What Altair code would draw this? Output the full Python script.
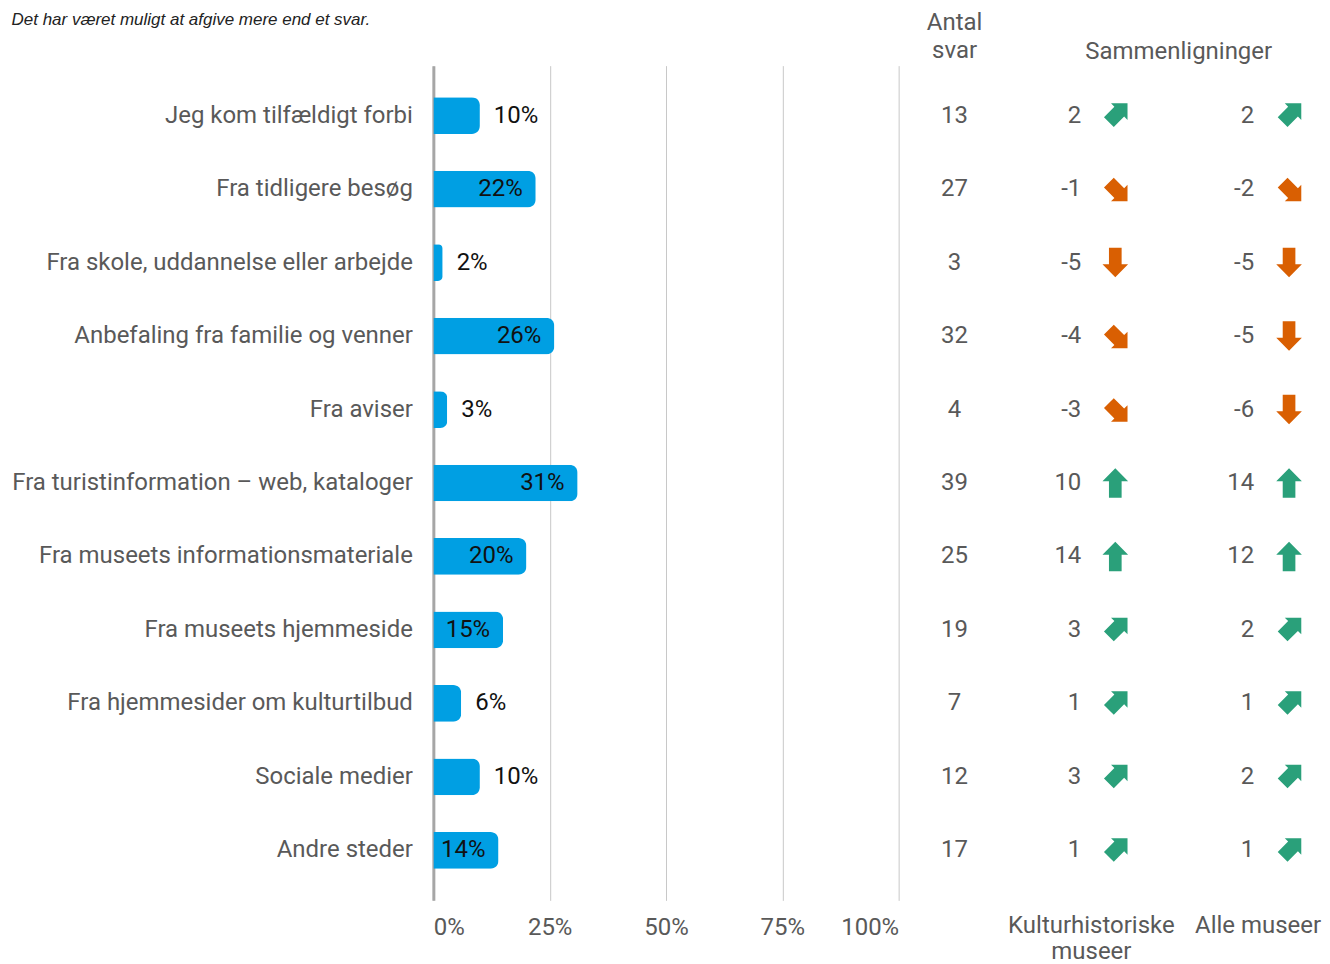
import altair as alt
import pandas as pd

# ---------------- data ----------------
categories = [
    "Jeg kom tilfældigt forbi",
    "Fra tidligere besøg",
    "Fra skole, uddannelse eller arbejde",
    "Anbefaling fra familie og venner",
    "Fra aviser",
    "Fra turistinformation – web, kataloger",
    "Fra museets informationsmateriale",
    "Fra museets hjemmeside",
    "Fra hjemmesider om kulturtilbud",
    "Sociale medier",
    "Andre steder",
]
shares = [0.10, 0.22, 0.02, 0.26, 0.03, 0.31, 0.20, 0.15, 0.06, 0.10, 0.14]
counts = [13, 27, 3, 32, 4, 39, 25, 19, 7, 12, 17]
diff_kultur = [2, -1, -5, -4, -3, 10, 14, 3, 1, 3, 1]
diff_alle = [2, -2, -5, -5, -6, 14, 12, 2, 1, 2, 1]
pct_ticks = [0, 0.25, 0.5, 0.75, 1.0]

subtitle = "Det har været muligt at afgive mere end et svar."
hdr_count = "Antal svar"
hdr_compare = "Sammenligninger"
grp_kultur = "Kulturhistoriske museer"
grp_alle = "Alle museer"

# ---------------- styles ----------------
FONT = "Roboto"
GREY = "#595959"
BAR = "#009FE3"
GREEN = "#2AA07A"
ORANGE = "#D95F02"
FS = 24

ARROW_STRAIGHT = "M0,-1 L0.87,-0.12 L0.43,-0.12 L0.43,1 L-0.43,1 L-0.43,-0.12 L-0.87,-0.12 Z"
ARROW_DIAG = ("M1,-1 L1,0.35 L0.725,0.075 L-0.125,0.925 L-0.925,0.125 "
              "L-0.075,-0.725 L-0.35,-1 Z")

bars_df = pd.DataFrame({"cat": categories, "share": shares})
count_df = pd.DataFrame({"cat": categories, "count": counts, "hdr": hdr_count})


def comp_df(values, grp):
    rows = []
    for c, v in zip(categories, values):
        straight = abs(v) >= 5
        if v > 0:
            rot = 0
        else:
            rot = 180 if straight else 90
        rows.append({"cat": c, "grp": grp, "diff": v, "straight": straight,
                     "rot": rot, "sign": "pos" if v > 0 else "neg"})
    return pd.DataFrame(rows)


kultur_df = comp_df(diff_kultur, grp_kultur)
alle_df = comp_df(diff_alle, grp_alle)

H = 836
yscale = alt.Scale(type="band", paddingInner=0.5, paddingOuter=0.43)
xband = alt.Scale(type="band", paddingInner=0, paddingOuter=0)


def ydef(axis=None):
    return alt.Y("cat:N", sort=categories, scale=yscale, axis=axis)


y_axis = alt.Axis(title=None, ticks=False, domainColor="#A6A6A6", domainWidth=3,
                  labelFontSize=FS, labelColor=GREY, labelPadding=21, labelLimit=600,
                  labelFont=FONT)

x_share = alt.X("share:Q", scale=alt.Scale(domain=[0, 1]),
                axis=alt.Axis(values=pct_ticks, format=".0%", grid=True, gridColor="#C8C8C8",
                              gridWidth=1, domain=False, ticks=False, labelFlush=True,
                              labelFontSize=FS, labelColor=GREY, labelPadding=15, title=None,
                              labelFont=FONT))

bars = alt.Chart(bars_df).mark_bar(color=BAR, cornerRadiusEnd=8).encode(
    x=x_share, y=ydef(y_axis))
lab_in = alt.Chart(bars_df).transform_filter("datum.share >= 0.12").mark_text(
    align="right", dx=-13, fontSize=FS, color="#111", font=FONT).encode(
    x=x_share, y=ydef(y_axis), text=alt.Text("share:Q", format=".0%"))
lab_out = alt.Chart(bars_df).transform_filter("datum.share < 0.12").mark_text(
    align="left", dx=14, fontSize=FS, color="#111", font=FONT).encode(
    x=x_share, y=ydef(y_axis), text=alt.Text("share:Q", format=".0%"))

panel_a = alt.layer(bars, lab_in, lab_out).properties(width=466, height=H)

# ---- Antal svar ----
count_axis = alt.Axis(orient="top", title=hdr_compare, ticks=False, domain=False, grid=False,
                      labelAngle=0, labelExpr="split(datum.label, ' ')", labelFontSize=FS,
                      labelColor=GREY, labelPadding=31, labelLineHeight=28, labelFont=FONT,
                      titleX=280, titleY=-7, titleAlign="center", titleBaseline="alphabetic",
                      titleFontSize=FS, titleFontWeight="normal", titleColor=GREY, titleFont=FONT)
panel_b = alt.Chart(count_df).mark_text(fontSize=FS, color=GREY, font=FONT).encode(
    x=alt.X("hdr:N", scale=xband, axis=count_axis), y=ydef(),
    text=alt.Text("count:Q", format="d")
).properties(width=112, height=H)


# ---- comparison panels ----
def comp_panel(df, width, num_pos, arrow_pos, axis):
    base = alt.Chart(df)
    nums = base.transform_calculate(lbl="'' + datum.diff").mark_text(
        align="right", fontSize=FS, color=GREY, font=FONT).encode(
        x=alt.X("grp:N", bandPosition=num_pos, scale=xband, axis=axis), y=ydef(),
        text=alt.Text("lbl:N"))
    color = alt.Color("sign:N", scale=alt.Scale(domain=["pos", "neg"], range=[GREEN, ORANGE]),
                      legend=None)
    straight = base.transform_filter("datum.straight").mark_point(
        shape=ARROW_STRAIGHT, filled=True, size=870, opacity=1, strokeWidth=0).encode(
        x=alt.X("grp:N", bandPosition=arrow_pos, scale=xband, axis=axis), y=ydef(),
        color=color, angle=alt.Angle("rot:Q", scale=None))
    diag = base.transform_filter("!datum.straight").mark_point(
        shape=ARROW_DIAG, filled=True, size=600, opacity=1, strokeWidth=0).encode(
        x=alt.X("grp:N", bandPosition=arrow_pos, scale=xband, axis=axis), y=ydef(),
        color=color, angle=alt.Angle("rot:Q", scale=None))
    return alt.layer(nums, straight, diag).properties(width=width, height=H)


axis_c = alt.Axis(orient="bottom", title=None, ticks=False, domain=False, grid=False,
                  labelAngle=0, labelExpr="split(datum.label, ' ')", labelFontSize=FS,
                  labelColor=GREY, labelPadding=13, labelLineHeight=26, labelFont=FONT)
axis_d = alt.Axis(orient="bottom", title=None, ticks=False, domain=False, grid=False,
                  labelAngle=0, labelFontSize=FS, labelColor=GREY, labelPadding=13,
                  labelOffset=11, labelFont=FONT)

panel_c = comp_panel(kultur_df, 162, 0.438, 0.648, axis_c)
panel_d = comp_panel(alle_df, 150, 0.547, 0.78, axis_d)

chart = alt.hconcat(panel_a, panel_b, panel_c, panel_d, spacing=0, bounds="flush").properties(
    title=alt.TitleParams(subtitle, anchor="start", fontStyle="italic", fontSize=17,
                          fontWeight="normal", color="#222", font="Liberation Sans", offset=-18),
    padding={"top": 2, "left": 3, "right": 0, "bottom": -5},
).configure_view(stroke=None)

chart.save("out.html", embed_options={"renderer": "svg", "actions": False})
